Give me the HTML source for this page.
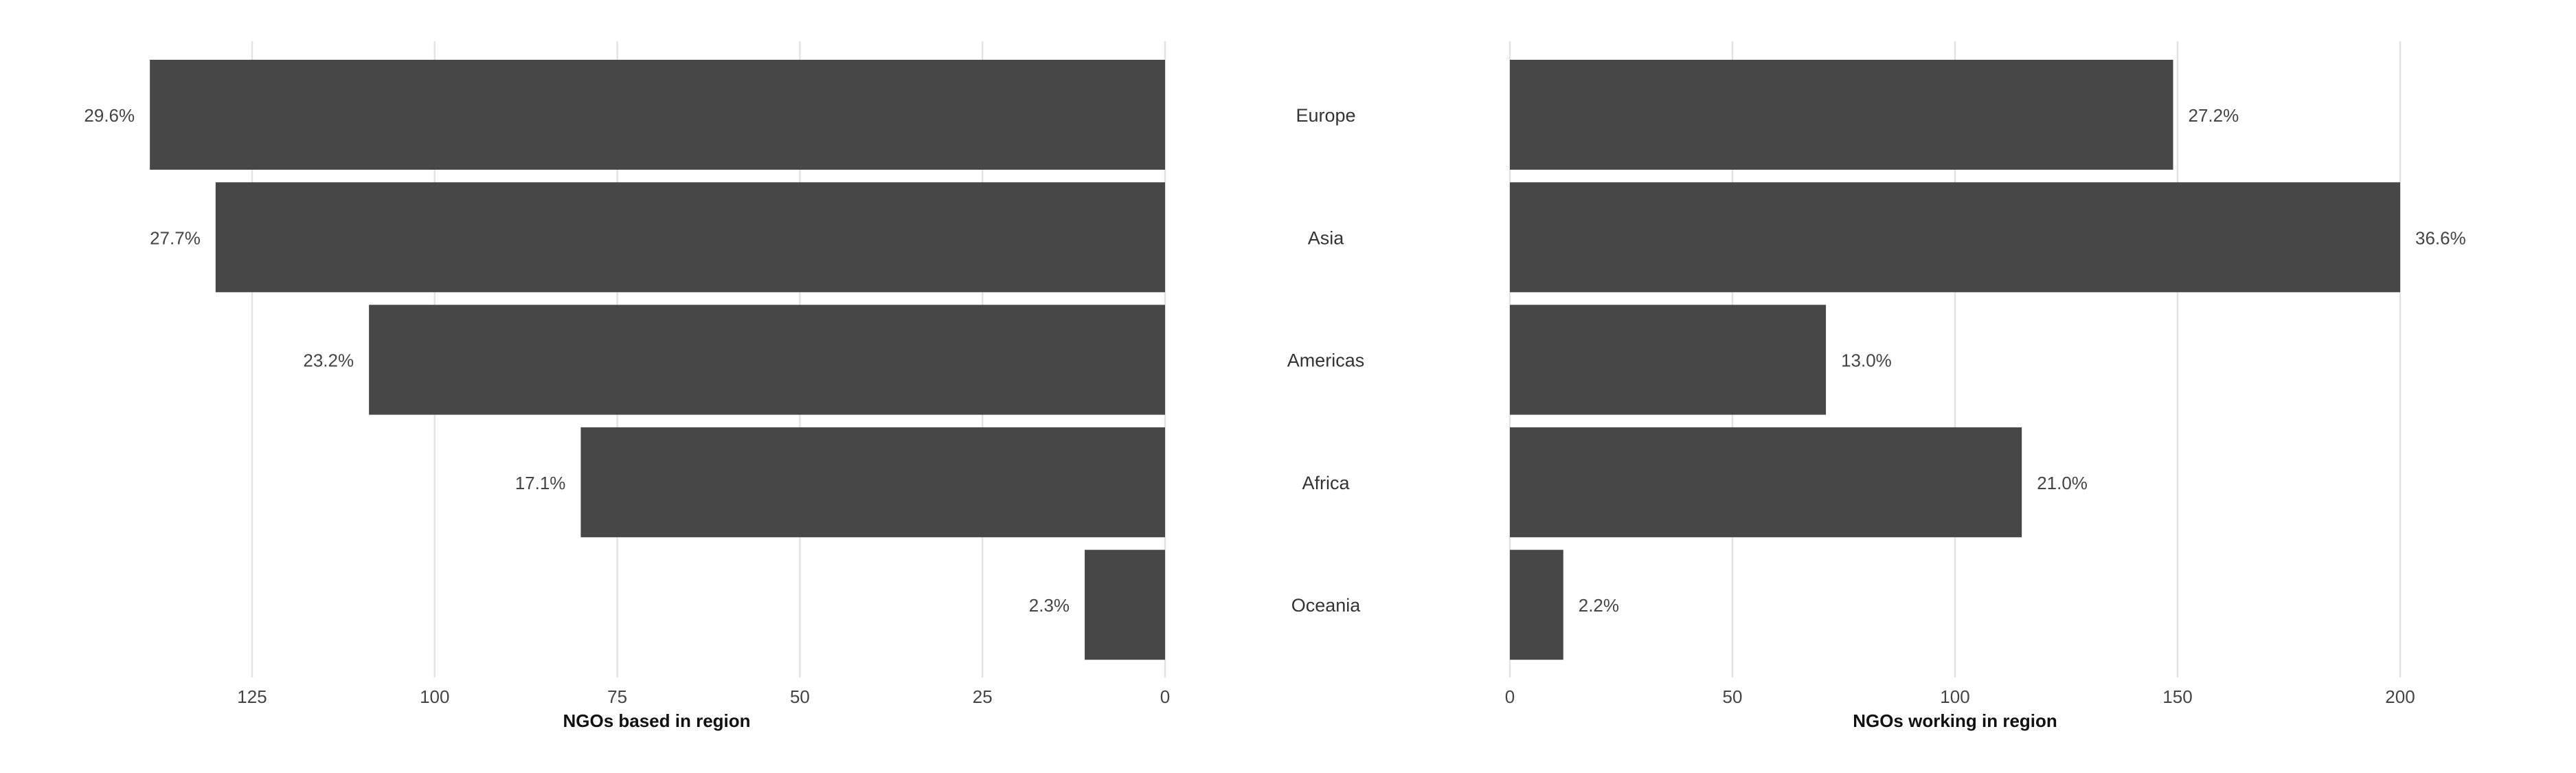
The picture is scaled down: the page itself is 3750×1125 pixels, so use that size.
<!DOCTYPE html>
<html><head><meta charset="utf-8"><style>
html,body{margin:0;padding:0;background:#fff;}
svg{display:block;font-family:"Liberation Sans",sans-serif;}
</style></head><body>
<svg id="chart" width="3750" height="1125" xmlns="http://www.w3.org/2000/svg">
<g id="grid"></g>
<g id="bars"></g>
<g id="labels"></g>
<text x="956" y="1058" text-anchor="middle" font-size="26" font-weight="bold" fill="#111">NGOs based in region</text>
<text x="2846" y="1058" text-anchor="middle" font-size="26" font-weight="bold" fill="#111">NGOs working in region</text>
</svg>
<script>
const categories = ["Europe","Asia","Americas","Africa","Oceania"];
const basedValues = [139,130,109,80,11];
const workingValues = [149,200,71,115,12];
const leftTicks = [0,25,50,75,100,125];
const rightTicks = [0,50,100,150,200];

const NS = "http://www.w3.org/2000/svg";
const xLeft = v => 1696 - v * 10.632;
const xRight = v => 2198 + v * 6.48;
const yBand = i => 87 + i * 178.3;
const bandH = 160;
const gridTop = 60, gridBot = 986;
const sumB = basedValues.reduce((a,b)=>a+b,0);
const sumW = workingValues.reduce((a,b)=>a+b,0);
const gGrid = document.getElementById('grid');
const gBars = document.getElementById('bars');
const gLab = document.getElementById('labels');
function mk(tag, attrs, parent, text){
  const e = document.createElementNS(NS, tag);
  for (const k in attrs) e.setAttribute(k, attrs[k]);
  if (text !== undefined) e.textContent = text;
  parent.appendChild(e);
  return e;
}
leftTicks.forEach(t => {
  const l = mk('line',{x1:xLeft(t),x2:xLeft(t),y1:gridTop,y2:gridBot,stroke:'#e3e3e3','stroke-width':2.5},gGrid);
  
  
  const tx = mk('text',{x:xLeft(t),y:1023,'text-anchor':'middle','font-size':26,fill:'#444'},gLab,String(t));
  
  
});
rightTicks.forEach(t => {
  const l = mk('line',{x1:xRight(t),x2:xRight(t),y1:gridTop,y2:gridBot,stroke:'#e3e3e3','stroke-width':2.5},gGrid);
  
  
  const tx = mk('text',{x:xRight(t),y:1023,'text-anchor':'middle','font-size':26,fill:'#444'},gLab,String(t));
  
  
});
categories.forEach((c,i) => {
  const y = yBand(i);
  const bv = basedValues[i], wv = workingValues[i];
  const b1 = mk('rect',{x:xLeft(bv),y:y,width:xLeft(0)-xLeft(bv),height:bandH,fill:'#474747'},gBars);
  
  
  const b2 = mk('rect',{x:xRight(0),y:y,width:xRight(wv)-xRight(0),height:bandH,fill:'#474747'},gBars);
  
  
  const cy = y + bandH/2 + 10;
  const l1 = mk('text',{x:xLeft(bv)-22,y:cy,'text-anchor':'end','font-size':26,fill:'#444'},gLab,(bv/sumB*100).toFixed(1)+'%');
  
  
  const l2 = mk('text',{x:xRight(wv)+22,y:cy,'text-anchor':'start','font-size':26,fill:'#444'},gLab,(wv/sumW*100).toFixed(1)+'%');
  
  
  const cl = mk('text',{x:1930,y:cy,'text-anchor':'middle','font-size':27,fill:'#333'},gLab,c);
  
  
});
</script>
</body></html>
